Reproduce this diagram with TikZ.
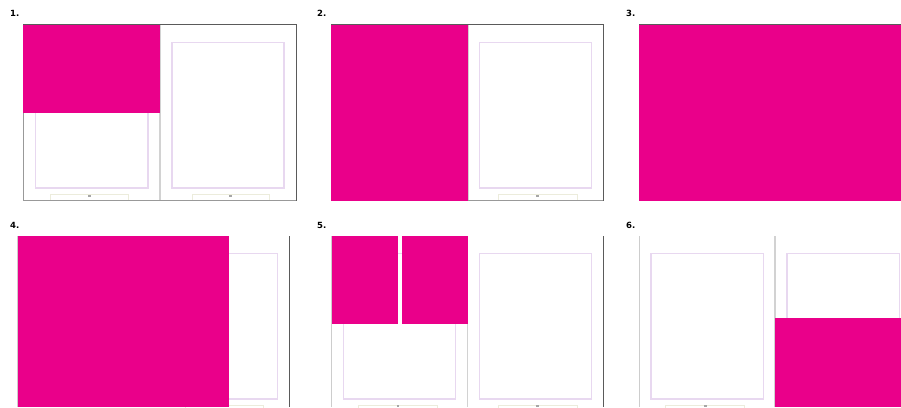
\documentclass[tikz,border=0pt]{standalone}
\usepackage{fontspec}
\setmainfont{DejaVu Sans}
\definecolor{mag}{RGB}{234,0,138}
\definecolor{marg}{RGB}{232,216,240}
\definecolor{frameD}{RGB}{90,90,90}
\definecolor{frameL}{RGB}{205,205,205}
\definecolor{divc}{RGB}{210,210,210}
\definecolor{footc}{RGB}{236,236,220}
\begin{document}
\begin{tikzpicture}[x=1pt,y=-1pt,
  lbl/.style={anchor=west,font=\fontsize{8.5}{8.5}\selectfont\bfseries,inner sep=0pt},
  fillmag/.style={fill=mag,draw=none},
  margbox/.style={draw=marg,line width=1.4pt},
  divline/.style={draw=divc,line width=1.8pt},
  framed/.style={draw=frameD,line width=1pt},
  framel/.style={draw=frameL,line width=1pt},
  footbox/.style={draw=footc,line width=0.6pt},
  fdot/.style={fill=gray!70,draw=none}]
\fill[white] (0,0) rectangle (901,407);
\useasboundingbox (0,0) rectangle (901,407);
\clip (0,0) rectangle (901,407);
% ---------- labels
\node[lbl] (l1) at (10,13.5) {1.};
\node[lbl] (l2) at (317,13.5) {2.};
\node[lbl] (l3) at (626,13.5) {3.};
\node[lbl] (l4) at (10,225) {4.};
\node[lbl] (l5) at (317,225) {5.};
\node[lbl] (l6) at (626,225) {6.};
% ---------- panel 1
\draw[divline] (160,24) -- (160,200);
\draw[margbox] (35.5,42.5) rectangle (148,188);
\draw[margbox] (172,42.5) rectangle (284,188);
\draw[footbox] (50,194) rectangle (128,200);
\draw[footbox] (192,194) rectangle (269,200);
\fill[fdot] (88,194.5) rectangle (90.5,196.5);
\fill[fdot] (229,194.5) rectangle (231.5,196.5);
\draw[draw=gray!80,line width=0.8pt] (23.5,24) -- (23.5,200.5) -- (296.5,200.5);
\draw[framed] (23,24) -- (296.5,24) -- (296.5,200.5);
\fill[fillmag] (23,24.5) rectangle (160,113);
% ---------- panel 2
\draw[divline] (468,24) -- (468,200);
\draw[margbox] (479.5,42.5) rectangle (591.5,188);
\draw[footbox] (498,194) rectangle (577,200);
\fill[fdot] (536,194.5) rectangle (538.5,196.5);
\draw[draw=gray!80,line width=0.8pt] (331,200.5) -- (603.5,200.5);
\draw[framed] (331,24) -- (603.5,24) -- (603.5,200.5);
\fill[fillmag] (331,24.5) rectangle (468,201);
% ---------- panel 3
\fill[fillmag] (639,24.5) rectangle (901,201);
\draw[framed] (639,24) -- (901,24);
% ---------- panel 4
\draw[framel] (17,236) -- (17,407);
\draw[draw=frameD,line width=1.2pt] (289.5,236) -- (289.5,407);
\draw[margbox] (165,253.5) rectangle (277.5,399);
\draw[footbox] (185,405) rectangle (263,411);
\fill[fillmag] (17.5,236) rectangle (229,407);
% ---------- panel 5
\draw[framel] (331.5,236) -- (331.5,407);
\draw[draw=frameD,line width=1.2pt] (603.5,236) -- (603.5,407);
\draw[divline] (467.5,236) -- (467.5,407);
\draw[margbox] (343.5,253.5) rectangle (455.5,399);
\draw[margbox] (479.5,253.5) rectangle (591.5,399);
\draw[footbox] (358,405) rectangle (437,411);
\draw[footbox] (498,405) rectangle (577,411);
\fill[fdot] (396.5,404.5) rectangle (399,406.5);
\fill[fdot] (536,404.5) rectangle (538.5,406.5);
\fill[fillmag] (332,236) rectangle (397.5,324);
\fill[fillmag] (402,236) rectangle (468,324);
% ---------- panel 6
\draw[framel] (639.5,236) -- (639.5,407);
\draw[divline] (775,236) -- (775,407);
\draw[margbox] (651,253.5) rectangle (763.5,399);
\draw[margbox] (787,253.5) rectangle (899.5,399);
\draw[footbox] (665,405) rectangle (744,411);
\fill[fdot] (704,404.5) rectangle (706.5,406.5);
\fill[fillmag] (775,318) rectangle (901,407);
\end{tikzpicture}
\end{document}
